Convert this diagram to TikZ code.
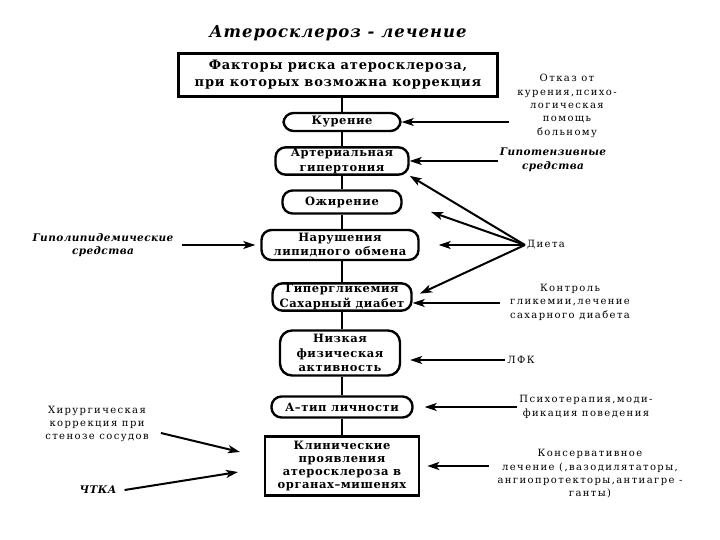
\documentclass[tikz,border=0pt]{standalone}
\usepackage{fontspec}
\setmainfont{DejaVu Serif}
\newfontfamily\notefont[LetterSpace=14]{DejaVu Serif}
\newfontfamily\boxfont[LetterSpace=5]{DejaVu Serif}
\newfontfamily\titlefont[LetterSpace=6]{DejaVu Serif}
\newfontfamily\drugfont[LetterSpace=4]{DejaVu Serif}
\usetikzlibrary{arrows.meta}
\tikzset{riskbox/.style={draw,line width=2.4pt,rounded corners=10pt,
    align=center,inner sep=1pt,
    font=\boxfont\bfseries\fontsize{11.5}{14.5}\selectfont}}
\tikzset{framebox/.style={draw,line width=2.6pt,align=center,inner sep=1pt,
    font=\boxfont\bfseries\fontsize{11.5}{13}\selectfont}}
\tikzset{note/.style={align=center,inner sep=2pt,
    font=\notefont\fontsize{10}{13.4}\selectfont}}
\tikzset{drugnote/.style={align=center,inner sep=2pt,
    font=\drugfont\bfseries\itshape\fontsize{10.5}{13.5}\selectfont}}
\tikzset{treatarrow/.style={line width=2pt,
    -{Stealth[length=12pt,width=8pt,inset=3pt]}}}
\tikzset{axisline/.style={line width=2pt}}

\begin{document}
\begin{tikzpicture}[x=1pt,y=-1pt]

\pgfmathsetmacro{\axisx}{342}

\useasboundingbox (0,0) rectangle (720,540);

%   表題
\node[font=\titlefont\bfseries\itshape\fontsize{16.5}{20}\selectfont]
    (title) at (338,33) {Атеросклероз - лечение};

%   中央の枠
\node[framebox,minimum width=319pt,minimum height=43pt,
    font=\titlefont\bfseries\fontsize{13}{17}\selectfont]
    (factors) at (338,75) {Факторы риска атеросклероза,\\при которых возможна коррекция};
\node[riskbox,minimum width=117pt,minimum height=18pt]
    (smoke) at (\axisx,122) {Курение};
\node[riskbox,minimum width=133pt,minimum height=27pt]
    (hypert) at (\axisx,161) {Артериальная\\гипертония};
\node[riskbox,minimum width=119pt,minimum height=23pt]
    (obesity) at (\axisx,202) {Ожирение};
\node[riskbox,minimum width=157pt,minimum height=30pt]
    (lipid) at (340,245) {Нарушения\\липидного обмена};
\node[riskbox,minimum width=139pt,minimum height=27pt]
    (glyc) at (\axisx,297) {Гипергликемия\\Сахарный диабет};
\node[riskbox,minimum width=120pt,minimum height=45pt,rounded corners=12pt]
    (activity) at (340,353) {Низкая\\физическая\\активность};
\node[riskbox,minimum width=141pt,minimum height=21pt]
    (typeA) at (\axisx,407) {А–тип личности};
\node[framebox,minimum width=154pt,minimum height=59pt]
    (clinic) at (\axisx,466) {Клинические\\проявления\\атеросклероза в\\органах–мишенях};

%   縦の線
\draw[axisline] (smoke.north |- factors.south) -- (smoke.north);
\draw[axisline] (smoke.south) -- (hypert.north);
\draw[axisline] (hypert.south) -- (obesity.north);
\draw[axisline] (obesity.south) -- (lipid.north -| obesity.south);
\draw[axisline] (lipid.south -| glyc.north) -- (glyc.north);
\draw[axisline] (glyc.south) -- (glyc.south |- activity.north);
\draw[axisline] (typeA.north |- activity.south) -- (typeA.north);
\draw[axisline] (typeA.south) -- (clinic.north);

%   右の説明
\node[note] (quit) at (567,106) {Отказ от\\курения,психо-\\логическая\\помощь\\больному};
\node[drugnote] (hypodrug) at (553,160) {Гипотензивные\\средства};
\node[note] (diet) at (546,245) {Диета};
\node[note] (glycctl) at (570,302) {Контроль\\гликемии,лечение\\сахарного диабета};
\node[note] (exercise) at (521,360) {ЛФК};
\node[note] (psycho) at (586,407) {Психотерапия,моди-\\фикация поведения};
\node[note] (conserv) at (590,474) {Консервативное\\лечение (,вазодилятаторы,\\ангиопротекторы,антиагре -\\ганты)};

%   左の説明
\node[drugnote] (lipiddrug) at (103,245) {Гиполипидемические\\средства};
\node[note] (surgery) at (97,424) {Хирургическая\\коррекция при\\стенозе сосудов};
\node[drugnote] (ptca) at (98,490) {ЧТКА};
\coordinate (surgeryto) at (240,452);
\coordinate (ptcato) at (238,472);

%   右の矢印
\draw[treatarrow] ([xshift=-6pt]quit.west |- smoke.east) -- (smoke.east);
\draw[treatarrow] (hypodrug.west |- hypert.east) -- (hypert.east);
\draw[treatarrow] (diet.west) -- (hypert.south east);
\draw[treatarrow,shorten >=30pt] (diet.west) -- (obesity.east);
\draw[treatarrow,shorten >=19pt] (diet.west) -- (lipid.east);
\draw[treatarrow,shorten >=8pt] (diet.west) -- (glyc.east);
\draw[treatarrow] ([shift={(-8pt,-1pt)}]glycctl.west) -- ([yshift=-1pt]glycctl.west -| glyc.east);
\draw[treatarrow,shorten >=9pt] (exercise.west) -- (exercise.west -| activity.east);
\draw[treatarrow,shorten >=11pt] (psycho.west) -- (psycho.west -| typeA.east);
\draw[treatarrow,shorten >=7pt] ([xshift=-6pt]conserv.west |- clinic.east) -- (clinic.east);

%   左の矢印
\draw[treatarrow,shorten >=5pt] ([xshift=6pt]lipiddrug.east |- lipid.west) -- (lipid.west);
\draw[treatarrow] ([shift={(10pt,-9pt)}]surgery.east) -- (surgeryto);
\draw[treatarrow] ([xshift=6pt]ptca.east) -- (ptcato);

\end{tikzpicture}
\end{document}
